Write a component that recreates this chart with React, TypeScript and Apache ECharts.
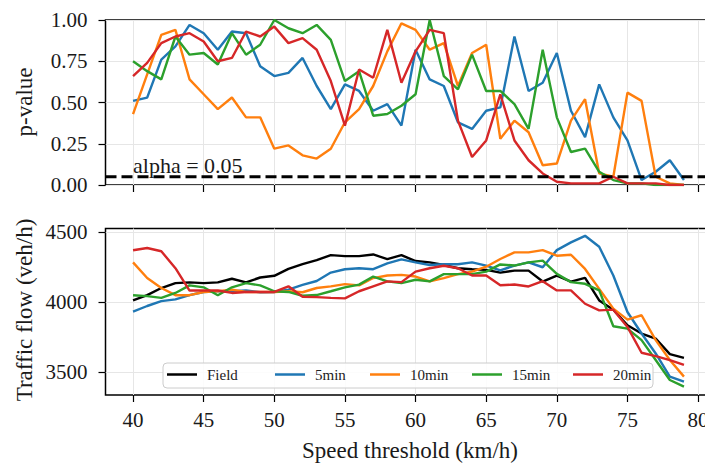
import React, { useEffect, useRef } from "react";
import * as echarts from "echarts";

const speedThresholds = [40, 41, 42, 43, 44, 45, 46, 47, 48, 49, 50, 51, 52, 53, 54, 55, 56, 57, 58, 59, 60, 61, 62, 63, 64, 65, 66, 67, 68, 69, 70, 71, 72, 73, 74, 75, 76, 77, 78, 79];

const pValue5min = [0.51, 0.53, 0.76, 0.84, 0.97, 0.92, 0.82, 0.93, 0.92, 0.72, 0.66, 0.68, 0.77, 0.60, 0.46, 0.61, 0.57, 0.45, 0.49, 0.36, 0.82, 0.64, 0.60, 0.38, 0.34, 0.45, 0.47, 0.90, 0.57, 0.62, 0.80, 0.45, 0.29, 0.61, 0.41, 0.27, 0.03, 0.08, 0.15, 0.03];
const pValue10min = [0.43, 0.67, 0.91, 0.94, 0.64, 0.55, 0.46, 0.53, 0.41, 0.41, 0.22, 0.24, 0.18, 0.16, 0.22, 0.38, 0.46, 0.60, 0.81, 0.98, 0.94, 0.82, 0.86, 0.60, 0.80, 0.85, 0.28, 0.39, 0.32, 0.12, 0.13, 0.39, 0.52, 0.07, 0.05, 0.56, 0.51, 0.05, 0.01, 0.0];
const pValue15min = [0.75, 0.69, 0.64, 0.90, 0.79, 0.80, 0.73, 0.92, 0.79, 0.85, 1.0, 0.95, 0.92, 0.97, 0.88, 0.63, 0.69, 0.42, 0.43, 0.48, 0.55, 1.0, 0.66, 0.58, 0.79, 0.57, 0.57, 0.49, 0.34, 0.82, 0.41, 0.20, 0.22, 0.08, 0.03, 0.01, 0.01, 0.0, 0.0, 0.0];
const pValue20min = [0.66, 0.74, 0.86, 0.90, 0.92, 0.87, 0.75, 0.77, 0.93, 0.90, 0.96, 0.86, 0.89, 0.82, 0.63, 0.36, 0.70, 0.65, 0.94, 0.62, 0.81, 0.94, 0.92, 0.39, 0.17, 0.27, 0.55, 0.27, 0.15, 0.07, 0.02, 0.01, 0.01, 0.01, 0.05, 0.01, 0.01, 0.01, 0.0, 0.0];

const flowField = [4012, 4049, 4100, 4135, 4140, 4135, 4140, 4166, 4140, 4175, 4187, 4236, 4270, 4299, 4334, 4327, 4327, 4339, 4306, 4334, 4292, 4283, 4264, 4241, 4234, 4229, 4210, 4224, 4224, 4146, 4189, 4146, 4172, 4012, 3946, 3835, 3776, 3740, 3629, 3603];
const flow5min = [3932, 3972, 4007, 4019, 4049, 4072, 4077, 4077, 4082, 4070, 4072, 4089, 4122, 4150, 4210, 4234, 4241, 4234, 4276, 4304, 4283, 4264, 4269, 4269, 4283, 4259, 4225, 4260, 4283, 4248, 4370, 4425, 4472, 4394, 4189, 3929, 3776, 3634, 3469, 3434];
const flow10min = [4283, 4171, 4100, 4049, 4049, 4072, 4077, 4089, 4072, 4072, 4072, 4077, 4070, 4100, 4112, 4128, 4119, 4171, 4189, 4194, 4182, 4147, 4171, 4199, 4217, 4252, 4307, 4354, 4354, 4370, 4330, 4337, 4236, 4094, 3953, 3875, 3906, 3729, 3587, 3469];
const flow15min = [4049, 4042, 4030, 4065, 4119, 4105, 4049, 4105, 4135, 4119, 4077, 4072, 4045, 4050, 4077, 4105, 4124, 4182, 4147, 4135, 4159, 4147, 4199, 4199, 4199, 4217, 4268, 4260, 4283, 4295, 4201, 4142, 4130, 4083, 3828, 3811, 3729, 3587, 3445, 3398];
const flow20min = [4369, 4385, 4362, 4241, 4082, 4082, 4082, 4065, 4072, 4072, 4072, 4112, 4038, 4035, 4030, 4026, 4077, 4112, 4147, 4142, 4217, 4241, 4259, 4241, 4189, 4189, 4120, 4125, 4111, 4149, 4083, 4083, 3988, 3941, 3946, 3823, 3639, 3615, 3587, 3552];

const xTicks = [40, 45, 50, 55, 60, 65, 70, 75, 80];
const xLimits = [38.05, 80.95];
const pLimits = [0, 1];
const flowTicks = [3500, 4000, 4500];
const flowLimits = [3338, 4524];
const alpha = 0.05;

const seriesNames = ["Field", "5min", "10min", "15min", "20min"];
const seriesColors = ["#000000", "#1f77b4", "#ff7f0e", "#2ca02c", "#d62728"];

const FONT = "Liberation Serif";

function zip(xs: number[], ys: number[]) {
  return xs.map((x, i) => [x, ys[i]]);
}

export default function App() {
  const ref = useRef<HTMLDivElement>(null);
  useEffect(() => {
    const chart = echarts.init(ref.current!, null, { renderer: "svg" });
    const gridBase = {
      left: 105.5,
      right: -6.5,
      show: true,
      borderColor: "#000",
      borderWidth: 1.5,
      backgroundColor: "transparent",
      containLabel: false,
      outerBoundsMode: "none",
    };
    const tickStyle = { color: "#000", width: 1.2 };
    const splitStyle = { color: "#e6e6e6", width: 1 };
    const labelStyle = { fontFamily: FONT, fontSize: 21, color: "#1a1a1a" };

    const pSeries = [pValue5min, pValue10min, pValue15min, pValue20min];
    const flowSeries = [flowField, flow5min, flow10min, flow15min, flow20min];

    const series: any[] = [];
    pSeries.forEach((vals, i) => {
      series.push({
        type: "line",
        name: seriesNames[i + 1],
        xAxisIndex: 0,
        yAxisIndex: 0,
        data: zip(speedThresholds, vals),
        showSymbol: false,
        symbol: "none",
        lineStyle: { width: 2.4, color: seriesColors[i + 1] },
        itemStyle: { color: seriesColors[i + 1] },
        z: 2,
      });
    });
    series.push({
      type: "line",
      name: "alpha",
      xAxisIndex: 0,
      yAxisIndex: 0,
      data: [[xLimits[0], alpha], [xLimits[1], alpha]],
      showSymbol: false,
      symbol: "none",
      lineStyle: { width: 3, color: "#000", type: [11, 5] },
      z: 3,
    });
    flowSeries.forEach((vals, i) => {
      series.push({
        type: "line",
        name: seriesNames[i],
        xAxisIndex: 1,
        yAxisIndex: 1,
        data: zip(speedThresholds, vals),
        showSymbol: false,
        symbol: "none",
        lineStyle: { width: 2.4, color: seriesColors[i] },
        itemStyle: { color: seriesColors[i] },
        z: 2,
      });
    });

    const legendLefts = [167, 275, 370, 472, 573];
    const legends = seriesNames.map((name, i) => ({
      show: true,
      data: [name],
      left: legendLefts[i],
      top: 367,
      padding: 0,
      icon: "rect",
      itemWidth: 30,
      itemHeight: 2.5,
      selectedMode: false,
      textStyle: { fontFamily: FONT, fontSize: 15, color: "#222", padding: [0, 0, 0, 5] },
      z: 6,
    }));

    const option: any = {
      animation: false,
      backgroundColor: "#fff",
      textStyle: { fontFamily: FONT },
      grid: [
        { ...gridBase, top: 20, height: 165 },
        { ...gridBase, top: 228.5, height: 166.5 },
      ],
      xAxis: [
        {
          type: "value",
          gridIndex: 0,
          min: xLimits[0],
          max: xLimits[1],
          splitNumber: 8,
          axisLine: { show: false },
          axisTick: { show: true, customValues: xTicks, length: 7, lineStyle: tickStyle },
          axisLabel: { show: false, customValues: xTicks },
          splitLine: { show: true, lineStyle: splitStyle },
        },
        {
          type: "value",
          gridIndex: 1,
          min: xLimits[0],
          max: xLimits[1],
          splitNumber: 8,
          axisLine: { show: false },
          axisTick: { show: true, customValues: xTicks, length: 7, lineStyle: tickStyle },
          axisLabel: { show: true, customValues: xTicks, margin: 14, formatter: (v: number) => String(v), ...labelStyle },
          splitLine: { show: true, lineStyle: splitStyle },
        },
      ],
      yAxis: [
        {
          type: "value",
          gridIndex: 0,
          min: pLimits[0],
          max: pLimits[1],
          interval: 0.25,
          axisLine: { show: false },
          axisTick: { show: true, length: 7, lineStyle: tickStyle },
          axisLabel: { show: true, margin: 18, formatter: (v: number) => v.toFixed(2), ...labelStyle },
          splitLine: { show: true, lineStyle: splitStyle },
        },
        {
          type: "value",
          gridIndex: 1,
          min: flowLimits[0],
          max: flowLimits[1],
          splitNumber: 2,
          axisLine: { show: false },
          axisTick: { show: true, customValues: flowTicks, length: 7, lineStyle: tickStyle },
          axisLabel: { show: true, customValues: flowTicks, margin: 18, formatter: (v: number) => String(v), ...labelStyle },
          splitLine: { show: true, lineStyle: splitStyle },
        },
      ],
      legend: legends,
      graphic: [
        {
          type: "rect",
          shape: { x: 163, y: 363, width: 490, height: 25, r: 4 },
          style: { fill: "rgba(255,255,255,0.85)", stroke: "#cccccc", lineWidth: 1 },
          z: 5,
          silent: true,
        },
        {
          type: "text",
          x: 133,
          y: 165,
          style: { text: "alpha = 0.05", fontFamily: FONT, fontSize: 22, fill: "#1a1a1a", align: "left", verticalAlign: "middle" },
          z: 5,
        },
        {
          type: "text",
          x: 24,
          y: 102,
          rotation: Math.PI / 2,
          style: { text: "p-value", fontFamily: FONT, fontSize: 23, fill: "#1a1a1a", align: "center", verticalAlign: "middle" },
        },
        {
          type: "text",
          x: 24,
          y: 310,
          rotation: Math.PI / 2,
          style: { text: "Traffic flow (veh/h)", fontFamily: FONT, fontSize: 23, fill: "#1a1a1a", align: "center", verticalAlign: "middle" },
        },
        {
          type: "text",
          x: 410,
          y: 450,
          style: { text: "Speed threshold (km/h)", fontFamily: FONT, fontSize: 23, fill: "#1a1a1a", align: "center", verticalAlign: "middle" },
        },
      ],
      series,
    };
    chart.setOption(option);
    return () => chart.dispose();
  }, []);
  return <div ref={ref} style={{ position: "fixed", left: 0, top: 0, width: 705, height: 464 }} />;
}
